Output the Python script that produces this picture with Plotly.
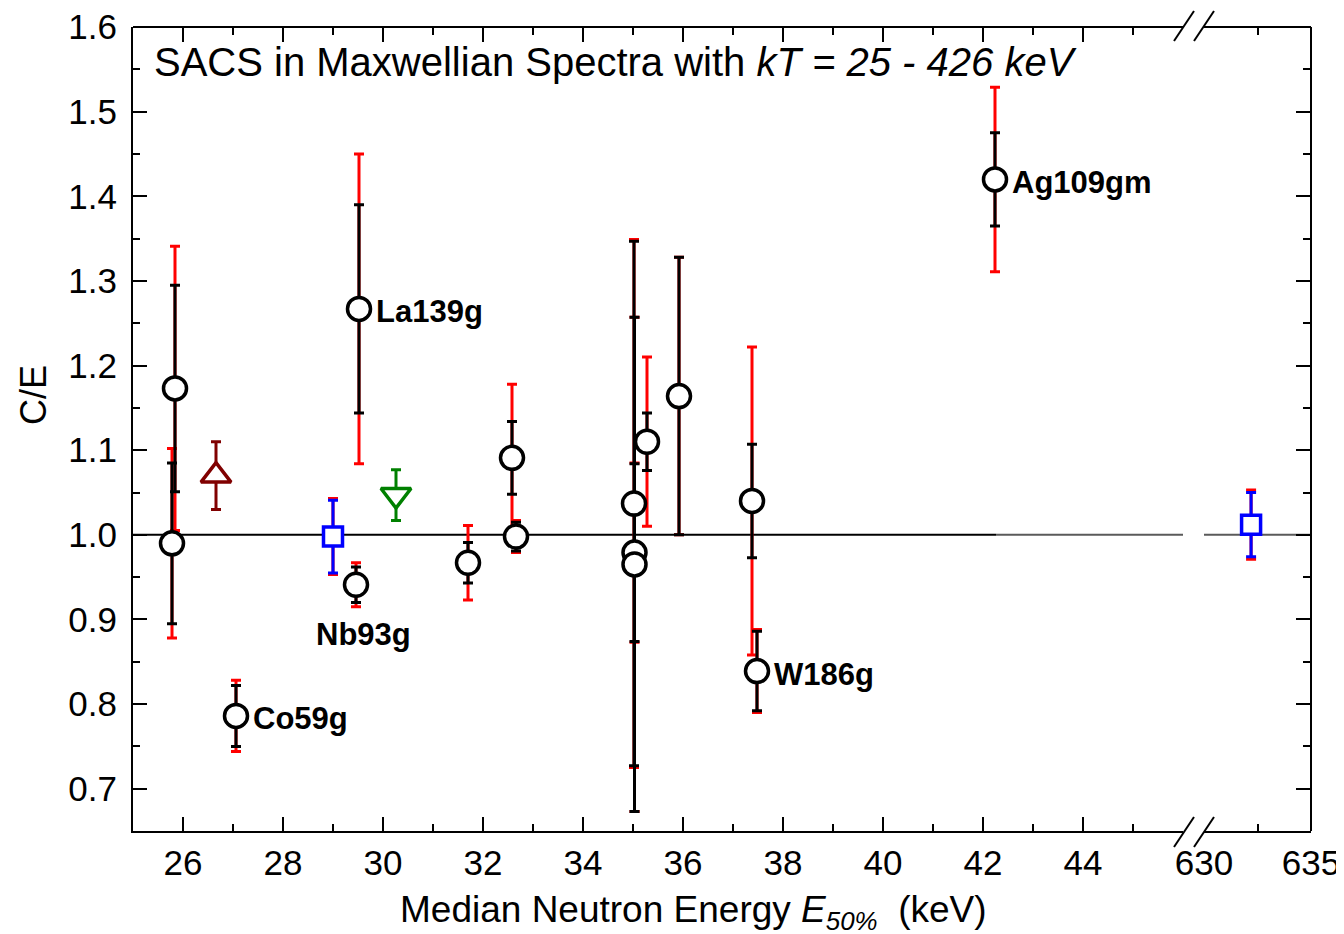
import plotly.graph_objects as go

# ---------------- data ----------------
# open black circles (main nuclides)
circ_x = [25.84, 25.78, 27.06, 29.46, 29.52, 31.70, 32.58, 32.66, 35.02, 35.03, 35.03, 35.28, 35.92, 37.38, 37.48, 42.24]
circ_y = [1.173, 0.990, 0.786, 0.941, 1.267, 0.967, 1.091, 0.998, 1.037, 0.979, 0.965, 1.110, 1.164, 1.040, 0.839, 1.420]
circ_err_exp = [0.122, 0.095, 0.036, 0.021, 0.123, 0.024, 0.043, 0.017, 0.310, 0.105, 0.292, 0.034, 0.164, 0.067, 0.047, 0.055]
circ_err_tot = [0.168, 0.112, 0.042, 0.026, 0.183, 0.044, 0.087, 0.019, 0.312, 0.106, 0.292, 0.100, 0.164, 0.182, 0.049, 0.109]

# labelled points: (index into circles, label)
label_idx = [15, 4, 3, 2, 14]
label_txt = ["Ag109gm", "La139g", "Nb93g", "Co59g", "W186g"]

# blue squares (left part and right part of broken axis)
sq_x = [29.00]
sq_y = [0.998]
sq_err_exp = [0.043]
sq_err_tot = [0.045]
sq2_x = [632.2]
sq2_y = [1.012]
sq2_err_exp = [0.038]
sq2_err_tot = [0.041]

# dark red up-triangle
tu_x = [26.66]
tu_y = [1.070]
tu_err = [0.040]

# green down-triangle
td_x = [30.26]
td_y = [1.047]
td_err = [0.030]

# axis settings
x_left_range = [25, 46]
x_left_ticks = [26, 28, 30, 32, 34, 36, 38, 40, 42, 44]
x_left_minor = [25, 27, 29, 31, 33, 35, 37, 39, 41, 43, 45]
x_right_range = [630, 635]
x_right_ticks = [630, 635]
x_right_minor = [632.5]
y_range = [0.65, 1.6001]
y_ticks = [0.7, 0.8, 0.9, 1.0, 1.1, 1.2, 1.3, 1.4, 1.5, 1.6]
y_tick_text = ["0.7", "0.8", "0.9", "1.0", "1.1", "1.2", "1.3", "1.4", "1.5", "1.6"]
y_minor = [0.65, 0.75, 0.85, 0.95, 1.05, 1.15, 1.25, 1.35, 1.45, 1.55]

FONT = "Arial, Liberation Sans, Helvetica, sans-serif"
RED = "#ff0000"
BLACK = "#000000"
BLUE = "#0000ff"
DRED = "#800000"
GREEN = "#008000"

fig = go.Figure()

def err_trace(x, y, err, color, xaxis="x", thickness=3, width=5):
    return go.Scatter(
        x=x, y=y, mode="markers", xaxis=xaxis, yaxis="y",
        marker=dict(color="rgba(0,0,0,0)", size=1),
        error_y=dict(type="data", array=err, visible=True, color=color,
                     thickness=thickness, width=width),
        hoverinfo="skip", showlegend=False)

# helper (empty) traces so that the mirrored frame axes get drawn
for xa, ya in [("x3", "y"), ("x4", "y"), ("x2", "y2")]:
    fig.add_trace(go.Scatter(x=[], y=[], xaxis=xa, yaxis=ya, mode="markers",
                             showlegend=False, hoverinfo="skip"))

# red (total) error bars underneath
fig.add_trace(err_trace(circ_x, circ_y, circ_err_tot, RED))
fig.add_trace(err_trace(sq_x, sq_y, sq_err_tot, RED))
fig.add_trace(err_trace(sq2_x, sq2_y, sq2_err_tot, RED, xaxis="x2"))

def marker_trace(x, y, err, symbol, size, color, xaxis="x"):
    return go.Scatter(
        x=x, y=y, mode="markers", xaxis=xaxis, yaxis="y",
        marker=dict(symbol=symbol, size=size, color="white",
                    line=dict(color=color, width=3.5)),
        error_y=dict(type="data", array=err, visible=True, color=color,
                     thickness=3, width=5),
        showlegend=False)

fig.add_trace(marker_trace(circ_x, circ_y, circ_err_exp, "circle", 23, BLACK))
fig.add_trace(marker_trace(sq_x, sq_y, sq_err_exp, "square", 19, BLUE))
fig.add_trace(marker_trace(sq2_x, sq2_y, sq2_err_exp, "square", 19, BLUE, xaxis="x2"))
fig.add_trace(marker_trace(tu_x, tu_y, tu_err, "triangle-up", 26, DRED))
fig.add_trace(marker_trace(td_x, td_y, td_err, "triangle-down", 26, GREEN))

# reference line at C/E = 1
shapes = [
    dict(type="line", xref="x", yref="y", x0=x_left_range[0], x1=42.26, y0=1, y1=1,
         line=dict(color=BLACK, width=2), layer="below"),
    dict(type="line", xref="x", yref="y", x0=42.26, x1=x_left_range[1], y0=1, y1=1,
         line=dict(color="#5a5a5a", width=2), layer="below"),
    dict(type="line", xref="x2", yref="y", x0=x_right_range[0], x1=x_right_range[1], y0=1, y1=1,
         line=dict(color="#5a5a5a", width=2), layer="below"),
]

# page is rendered with an 8px body margin -> figure is 8px smaller and
# all page coordinates below are offset by that margin
OFF = 8
W, H = 1344 - OFF, 934 - OFF
PL, PR, PT, PB = 133, 1311, 27, 831          # plot area in page pixels
L, R, T, B = PL - OFF, 1344 - PR, PT - OFF, 934 - PB
pw, ph = PR - PL, PB - PT
def px(xp):
    return (xp - PL) / pw
def py(yp):
    return (PB - yp) / ph

# axis break marks
for (ya, yb) in [(847, 817), (41, 11)]:
    for xa in [1174, 1194]:
        shapes.append(dict(type="line", xref="paper", yref="paper",
                           x0=px(xa), x1=px(xa + 20), y0=py(ya), y1=py(yb),
                           line=dict(color=BLACK, width=2)))

annotations = []
for i, t in zip(label_idx, label_txt):
    if t == "Nb93g":
        annotations.append(dict(x=circ_x[i], y=circ_y[i], xref="x", yref="y", text=f"<b>{t}</b>",
                                showarrow=False, xanchor="center", yanchor="middle",
                                xshift=7, yshift=-50, font=dict(family=FONT, size=31, color=BLACK)))
    else:
        annotations.append(dict(x=circ_x[i], y=circ_y[i], xref="x", yref="y", text=f"<b>{t}</b>",
                                showarrow=False, xanchor="left", yanchor="middle",
                                xshift=15, yshift=-3, font=dict(family=FONT, size=31, color=BLACK)))

annotations.append(dict(x=px(152), y=py(62), xref="paper", yref="paper",
                        text="SACS in Maxwellian Spectra with <i>kT = 25 - 426 keV</i>",
                        showarrow=False, xanchor="left", yanchor="middle",
                        font=dict(family=FONT, size=40, color=BLACK)))
annotations.append(dict(x=px(693), y=py(912), xref="paper", yref="paper",
                        text="Median Neutron Energy <i>E<sub>50%</sub></i>  (keV)",
                        showarrow=False, xanchor="center", yanchor="middle",
                        font=dict(family=FONT, size=37, color=BLACK)))
annotations.append(dict(x=px(33), y=py(395), xref="paper", yref="paper",
                        text="C/E", textangle=-90,
                        showarrow=False, xanchor="center", yanchor="middle",
                        font=dict(family=FONT, size=36, color=BLACK)))

axis_common = dict(showline=True, linecolor=BLACK, linewidth=2, ticks="inside",
                   ticklen=14, tickwidth=2, tickcolor=BLACK, showgrid=False,
                   zeroline=False, automargin=False,
                   tickfont=dict(family=FONT, size=35, color=BLACK))

def minor(vals):
    return dict(ticks="inside", ticklen=7, tickwidth=2, tickcolor=BLACK, tickvals=vals)

fig.update_layout(
    width=W, height=H,
    margin=dict(l=L, r=R, t=T, b=B, autoexpand=False),
    paper_bgcolor="white", plot_bgcolor="white",
    showlegend=False,
    shapes=shapes,
    annotations=annotations,
    xaxis=dict(domain=[0, px(1183)], range=x_left_range, anchor="y",
               tickmode="array", tickvals=x_left_ticks, minor=minor(x_left_minor),
               **axis_common),
    xaxis2=dict(domain=[px(1204), 1], range=x_right_range, anchor="y",
                tickmode="array", tickvals=x_right_ticks, minor=minor(x_right_minor),
                **axis_common),
    xaxis3=dict(domain=[0, px(1183)], range=x_left_range, overlaying="x", anchor="free",
                position=1, side="top", showticklabels=False,
                tickmode="array", tickvals=x_left_ticks, minor=minor(x_left_minor),
                **axis_common),
    xaxis4=dict(domain=[px(1204), 1], range=x_right_range, overlaying="x2", anchor="free",
                position=1, side="top", showticklabels=False,
                tickmode="array", tickvals=x_right_ticks, minor=minor(x_right_minor),
                **axis_common),
    yaxis=dict(domain=[0, 1], range=y_range, anchor="x", side="left",
               tickmode="array", tickvals=y_ticks, ticktext=[t + "\u2009" for t in y_tick_text],
               ticklabeloverflow="allow",
               minor=minor(y_minor), **axis_common),
    yaxis2=dict(range=y_range, overlaying="y", anchor="free", position=1, side="right",
                tickmode="array", tickvals=y_ticks, showticklabels=False,
                minor=minor(y_minor), **axis_common),
)

fig.write_html("out.html")
